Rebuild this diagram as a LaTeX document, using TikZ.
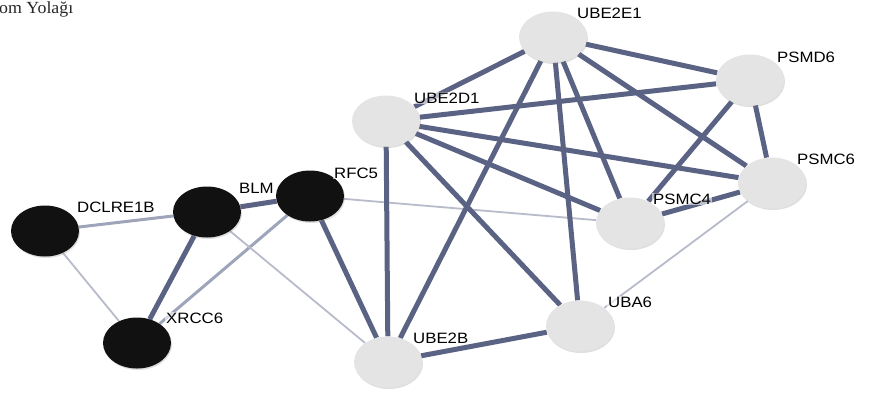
\documentclass[tikz,border=0pt]{standalone}
\usepackage{fontspec}
\usepackage{tikz}
\usetikzlibrary{shapes.geometric,shadows,backgrounds}
\newfontfamily\genefont[FakeStretch=1.12]{Liberation Sans}
\newfontfamily\headfont[FakeStretch=1.05]{Liberation Serif}
\definecolor{edgedark}{HTML}{5A6383}
\definecolor{edgemid}{HTML}{9EA4BA}
\definecolor{edgelight}{HTML}{B7BBCA}
\definecolor{seedgray}{HTML}{E4E4E4}
\definecolor{seedblack}{HTML}{111111}
\tikzset{
  gene/.style={ellipse, minimum width=68pt, minimum height=51pt, inner sep=0pt,
    drop shadow={shadow xshift=1pt, shadow yshift=-1.5pt, opacity=0.25}},
  query/.style={gene, fill=seedblack},
  partner/.style={gene, fill=seedgray},
  tag/.style={anchor=base west, inner sep=1pt, fill=white, fill opacity=0.6, text opacity=1,
    font=\genefont\fontsize{15}{17}\selectfont},
  hiconf/.style={edgedark, line width=5pt},
  midconf/.style={edgemid, line width=3pt},
  loconf/.style={edgelight, line width=1.8pt}
}

\begin{document}
\begin{tikzpicture}[x=1pt, y=-1pt]
  \useasboundingbox (0,0) rectangle (878,392);
  \node [anchor=base west, inner sep=0pt, text=black!85, font=\headfont\fontsize{17}{19}\selectfont] (title) at (-1,13) {om Yolağı};
  \node [query] (DCLRE1B) at (45, 231) {};
  \node [query] (BLM) at (207, 212) {};
  \node [query] (RFC5) at (310, 196) {};
  \node [query] (XRCC6) at (137, 343) {};
  \node [partner] (UBE2B) at (388, 362) {};
  \node [partner] (UBA6) at (580, 326) {};
  \node [partner] (UBE2D1) at (386, 121) {};
  \node [partner] (UBE2E1) at (553, 37) {};
  \node [partner] (PSMD6) at (750, 80) {};
  \node [partner] (PSMC6) at (772, 183) {};
  \node [partner] (PSMC4) at (630, 223) {};
  \node [tag] (DCLRE1B') at (76, 212) {DCLRE1B};
  \node [tag] (BLM') at (238, 193) {BLM};
  \node [tag] (RFC5') at (333, 178) {RFC5};
  \node [tag] (XRCC6') at (165, 323) {XRCC6};
  \node [tag] (UBE2B') at (412, 343) {UBE2B};
  \node [tag] (UBA6') at (607, 307) {UBA6};
  \node [tag] (UBE2D1') at (413, 103) {UBE2D1};
  \node [tag] (UBE2E1') at (576, 18) {UBE2E1};
  \node [tag] (PSMD6') at (776, 62) {PSMD6};
  \node [tag] (PSMC6') at (796, 164) {PSMC6};
  \node [tag] (PSMC4') at (652, 204) {PSMC4};
  \begin{pgfonlayer}{background}
  \draw [midconf] (DCLRE1B) -- (BLM);
  \draw [loconf] (DCLRE1B) -- (XRCC6);
  \draw [hiconf] (BLM) -- (RFC5);
  \draw [hiconf] (BLM) -- (XRCC6);
  \draw [midconf] (RFC5) -- (XRCC6);
  \draw [loconf] (BLM) -- (UBE2B);
  \draw [hiconf] (RFC5) -- (UBE2B);
  \draw [loconf] (RFC5) -- (PSMC4);
  \draw [hiconf] (UBE2D1) -- (UBE2B);
  \draw [hiconf] (UBE2E1) -- (UBE2B);
  \draw [hiconf] (UBE2D1) -- (UBA6);
  \draw [hiconf] (UBE2E1) -- (UBA6);
  \draw [hiconf] (UBE2B) -- (UBA6);
  \draw [loconf] (UBA6) -- (PSMC6);
  \draw [hiconf] (UBE2D1) -- (UBE2E1);
  \draw [hiconf] (UBE2D1) -- (PSMD6);
  \draw [hiconf] (UBE2D1) -- (PSMC6);
  \draw [hiconf] (UBE2D1) -- (PSMC4);
  \draw [hiconf] (UBE2E1) -- (PSMD6);
  \draw [hiconf] (UBE2E1) -- (PSMC6);
  \draw [hiconf] (UBE2E1) -- (PSMC4);
  \draw [hiconf] (PSMD6) -- (PSMC4);
  \draw [hiconf] (PSMD6) -- (PSMC6);
  \draw [hiconf] (PSMC4) -- (PSMC6);
  \end{pgfonlayer}
\end{tikzpicture}
\end{document}
